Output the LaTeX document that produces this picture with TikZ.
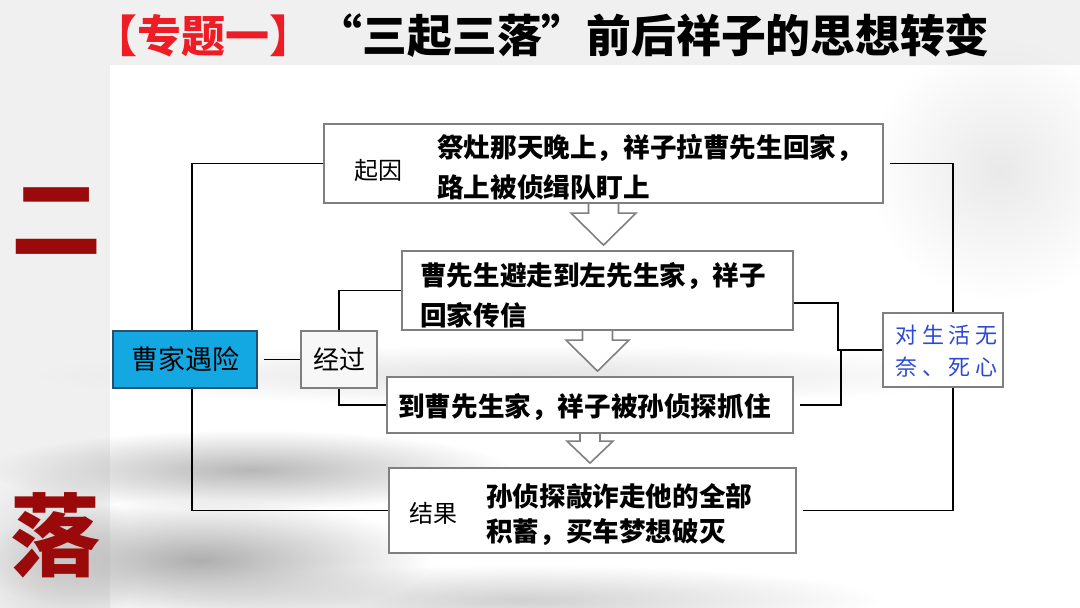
\documentclass[tikz,border=0pt]{standalone}
\usepackage{fontspec}
\newfontfamily\cjk{Noto Sans CJK SC}
\newfontfamily\cjkblue{Noto Sans CJK SC}[LetterSpace=22]
\usetikzlibrary{calc,fadings}
\tikzfading[name=softell, inner color=transparent!0, outer color=transparent!100]
\definecolor{titlered}{HTML}{EE1C25}
\definecolor{darkred}{HTML}{9B0A0A}
\definecolor{boxgray}{HTML}{7F7F7F}
\definecolor{caoblue}{HTML}{14A8E2}
\definecolor{caoedge}{HTML}{2A4E6E}
\definecolor{bluetext}{HTML}{2B48D6}
\newcommand\hollowarr[6]{%
  \draw[blockarr] let \p1=(#1.south), \p2=(#2.north) in
    (\x1-#3pt,\y1+2pt) -- (\x1-#3pt,\y2+#6pt+#5pt) -- (\x1-#4pt,\y2+#6pt+#5pt)
    -- (\x1,\y2+#6pt) -- (\x1+#4pt,\y2+#6pt+#5pt) -- (\x1+#3pt,\y2+#6pt+#5pt)
    -- (\x1+#3pt,\y1+2pt);}
\begin{document}
\begin{tikzpicture}[x=1pt,y=-1pt,
  pbox/.style={draw=boxgray, line width=1.8pt, fill=white, inner sep=0pt},
  conn/.style={draw=black, line width=1.4pt},
  blockarr/.style={draw=boxgray, line width=1.6pt, fill=white, line join=miter},
  boldtxt/.style={font=\cjk\bfseries\fontsize{26.6}{40}\selectfont, align=left, anchor=west, inner sep=0pt},
  regtxt/.style={font=\cjk\fontsize{24}{24}\selectfont, inner sep=0pt},
  cloud/.style={path fading=softell}]
\useasboundingbox (0,0) rectangle (1080,608);
% background
\fill[black!6] (0,0) rectangle (1080,608);
\fill[white] (110,65) rectangle (1080,608);
\fill[black!40, opacity=0.7, cloud] (250,470) ellipse (260 and 40);
\fill[black!45, opacity=0.7, cloud] (200,560) ellipse (230 and 60);
\fill[black!30, opacity=0.6, cloud] (520,600) ellipse (360 and 35);
\fill[black!18, opacity=0.6, cloud] (520,375) ellipse (480 and 30);
\fill[black!14, opacity=0.6, cloud] (1000,170) ellipse (130 and 130);
\fill[black!25, opacity=0.6, cloud] (55,560) ellipse (80 and 90);
% title
\node[anchor=west, inner sep=0pt, text=titlered, font=\cjk\bfseries\fontsize{44}{44}\selectfont] (titlea) at (93,36) {【专题一】};
\node[anchor=east, inner sep=0pt, font=\cjk\bfseries\fontsize{44.8}{44.8}\selectfont] (titleb) at (990,36) {“三起三落”前后祥子的思想转变};
\node[inner sep=0pt, text=darkred, font=\cjk\bfseries\fontsize{90}{90}\selectfont] (er) at (56,221) {二};
\node[inner sep=0pt, text=darkred, font=\cjk\bfseries\fontsize{90}{90}\selectfont] (luo) at (55,535) {落};
% nodes (boxes)
\node[pbox, minimum width=559pt, minimum height=79pt] (b1) at (603.5,163.5) {};
\node[pbox, minimum width=391pt, minimum height=79pt] (b2) at (597.5,290.5) {};
\node[pbox, minimum width=406pt, minimum height=56pt] (b3) at (590,405) {};
\node[pbox, minimum width=407pt, minimum height=85pt] (b4) at (592.5,510.5) {};
\node[draw=caoedge, line width=1.6pt, fill=caoblue, inner sep=0pt, minimum width=144pt, minimum height=57pt,
      font=\cjk\fontsize{27}{27}\selectfont] (cao) at (185,359.5) {曹家遇险};
\node[pbox, fill=black!3, minimum width=76pt, minimum height=57pt, font=\cjk\fontsize{26}{26}\selectfont] (jing) at (339,359.5) {经过};
\node[pbox, minimum width=120pt, minimum height=74pt] (dui) at (943,350) {};
% hollow arrows between boxes
\hollowarr{b1}{b2}{15}{32.5}{32}{5}
\hollowarr{b2}{b3}{15}{31.5}{31}{5}
\hollowarr{b3}{b4}{10}{23}{22}{4}
% redraw boxes over arrow shafts
\node[pbox, minimum width=559pt, minimum height=79pt] at (b1) {};
\node[pbox, minimum width=391pt, minimum height=79pt] at (b2) {};
\node[pbox, minimum width=406pt, minimum height=56pt] at (b3) {};
% texts
\node[regtxt] (t1) at (378,170) {起因};
\node[boldtxt] (t1b) at (437,167) {祭灶那天晚上，祥子拉曹先生回家，\\路上被侦缉队盯上};
\node[boldtxt] (t2) at (420,295) {曹先生避走到左先生家，祥子\\回家传信};
\node[boldtxt] (t3) at (398,407) {到曹先生家，祥子被孙侦探抓住};
\node[regtxt] (t4) at (433,513) {结果};
\node[boldtxt, font=\cjk\bfseries\fontsize{26.6}{35}\selectfont] (t4b) at (486,514.5) {孙侦探敲诈走他的全部\\积蓄，买车梦想破灭};
\node[anchor=west, inner sep=0pt, align=left, text=bluetext, font=\cjkblue\fontsize{22}{32}\selectfont] (t5) at (895,351) {对生活无\\奈、死心};
% connectors
\coordinate (j1) at (838,350);
\coordinate (j2) at (841,350);
\draw[conn] (b1.west) -| ([xshift=7pt]cao.north);
\draw[conn] ([xshift=7pt]cao.south) |- (b4.west);
\draw[conn] ([xshift=6pt]cao.east) -- (jing.west);
\draw[conn] (jing.north) |- (b2.west);
\draw[conn] (jing.south) |- (b3.west);
\draw[conn] ([xshift=6pt]b1.east) -| ([xshift=10pt]dui.north);
\draw[conn] ([xshift=6pt]b4.east) -| ([xshift=10pt]dui.south);
\draw[conn] ([yshift=-12.5pt]b2.east) -| (j1) -- (dui.west);
\draw[conn] ([xshift=6pt]b3.east) -| (j2);
\end{tikzpicture}
\end{document}
